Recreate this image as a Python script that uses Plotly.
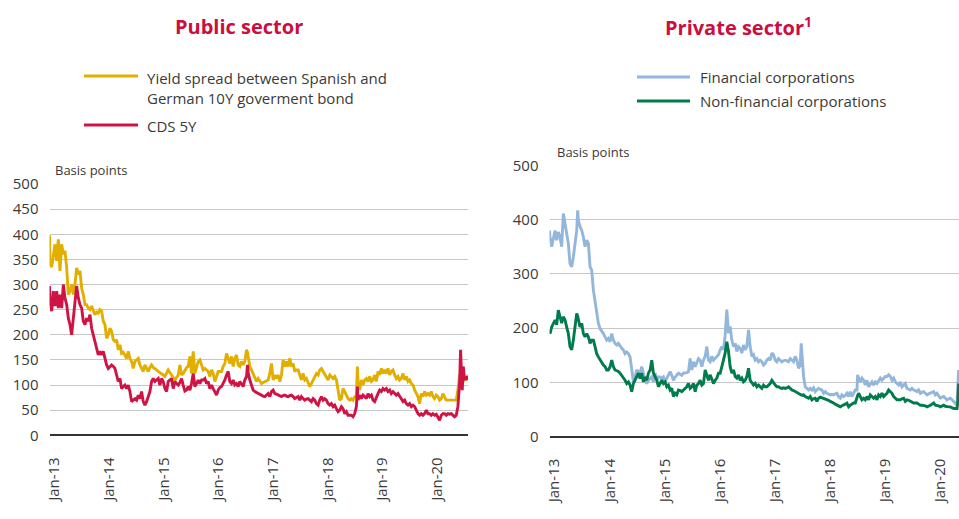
import plotly.graph_objects as go

W, H = 959, 519

# ---------------- data ----------------
# x values: months since January 2013
tick_vals = [0, 12, 24, 36, 48, 60, 72, 84]
tick_text = ["Jan-13", "Jan-14", "Jan-15", "Jan-16", "Jan-17", "Jan-18", "Jan-19", "Jan-20"]

left_names = ["Yield spread between Spanish and<br>German 10Y goverment bond", "CDS 5Y"]
right_names = ["Financial corporations", "Non-financial corporations"]

left_months = [
    0.00, 0.11, 0.48, 0.84, 1.21, 1.57, 1.94, 2.30, 2.67, 3.04,
    3.40, 3.77, 4.13, 4.50, 4.86, 5.23, 5.59, 5.96, 6.33, 6.69,
    7.06, 7.42, 7.79, 8.15, 8.52, 8.89, 9.25, 9.62, 9.98, 10.35,
    10.71, 11.08, 11.45, 11.81, 12.18, 12.54, 12.91, 13.27, 13.64, 14.01,
    14.37, 14.74, 15.10, 15.47, 15.83, 16.20, 16.56, 16.93, 17.30, 17.66,
    18.03, 18.39, 18.76, 19.12, 19.49, 19.85, 20.22, 20.59, 20.95, 21.32,
    21.68, 22.05, 22.42, 22.78, 23.15, 23.51, 23.88, 24.24, 24.61, 24.97,
    25.34, 25.71, 26.07, 26.44, 26.80, 27.17, 27.53, 27.90, 28.27, 28.63,
    29.00, 29.36, 29.73,
    30.10, 30.46, 30.83, 31.19, 31.56, 31.92, 32.29, 32.66, 33.02, 33.39,
    33.75, 34.12, 34.48, 34.85, 35.21, 35.58, 35.95, 36.31, 36.68, 37.04,
    37.41, 37.77, 38.14, 38.51, 38.87, 39.24, 39.60, 39.97, 40.33, 40.70,
    41.06, 41.43, 41.80, 42.16, 42.53, 42.89, 43.26, 43.48, 43.63, 43.99,
    44.36, 44.72, 45.09, 45.45, 45.82, 46.19, 46.55, 46.92, 47.28, 47.65,
    48.01, 48.38, 48.74, 49.11, 49.48, 49.84, 50.21, 50.57, 50.94, 51.30,
    51.67, 52.03, 52.40, 52.77, 53.13, 53.50, 53.86, 54.23, 54.59, 54.96,
    55.32, 55.69, 56.06, 56.42, 56.79, 57.15, 57.52, 57.88, 58.25, 58.61,
    58.98, 59.34, 59.71, 60.08,
    60.44, 60.81, 61.17, 61.54, 61.90, 62.27, 62.63, 63.00, 63.37, 63.73,
    64.10, 64.46, 64.83, 65.19, 65.56, 65.92, 66.29, 66.65, 67.02, 67.39,
    67.61, 67.75, 68.12, 68.48, 68.85, 69.21, 69.58, 69.94, 70.31, 70.68,
    71.04, 71.41, 71.77, 72.14, 72.50, 72.87, 73.23, 73.60, 73.96, 74.33,
    74.70, 75.06, 75.43, 75.79, 76.16, 76.52, 76.89, 77.25, 77.62, 77.99,
    78.35, 78.72, 79.08, 79.45, 79.81, 80.18, 80.54, 80.91, 81.27, 81.64,
    82.01, 82.37, 82.74, 83.10, 83.47, 83.83, 84.20, 84.56, 84.93, 85.30,
    85.66, 86.03, 86.39, 86.76, 87.12, 87.49, 87.85, 88.22, 88.58, 88.95,
    89.32, 89.68, 90.05, 90.27, 90.42, 90.64, 90.86, 91.15, 91.52, 91.88,
]

yield_spread = [
    398, 340, 335, 360, 380, 347, 390, 327, 380, 360,
    367, 333, 280, 287, 300, 280, 300, 333, 320, 327,
    293, 280, 260, 260, 253, 250, 257, 248, 240, 245,
    243, 250, 247, 227, 220, 193, 200, 213, 207, 190,
    187, 190, 170, 180, 163, 165, 160, 153, 167, 153,
    147, 133, 147, 150, 153, 140, 133, 127, 140, 133,
    127, 135, 140, 135, 133, 130, 127, 125, 123, 120,
    117, 125, 130, 125, 120, 115, 110, 115, 120, 140,
    120, 123, 128,
    135, 137, 157, 123, 167, 123, 135, 147, 150, 137,
    130, 133, 130, 127, 117, 130, 123, 107, 117, 127,
    127, 127, 137, 143, 163, 153, 143, 157, 137, 153,
    160, 140, 137, 147, 140, 147, 170, 165, 153, 137,
    130, 123, 117, 107, 113, 108, 103, 105, 107, 108,
    110, 123, 143, 110, 120, 113, 120, 107, 120, 150,
    137, 147, 137, 153, 137, 143, 127, 130, 130, 120,
    110, 123, 110, 113, 103, 97, 103, 110, 117, 123,
    120, 130, 133, 127,
    120, 113, 110, 120, 117, 113, 117, 110, 90, 70,
    73, 93, 87, 80, 73, 70, 73, 70, 77, 77,
    137, 107, 90, 110, 100, 110, 113, 107, 117, 107,
    110, 120, 107, 127, 120, 133, 123, 130, 123, 133,
    120, 127, 130, 120, 113, 117, 110, 113, 123, 110,
    117, 107, 110, 103, 100, 90, 83, 77, 63, 83,
    77, 87, 80, 83, 80, 87, 77, 73, 80, 77,
    70, 73, 83, 77, 70, 70, 70, 70, 70, 70,
    70, 90, 120, 115, 113, 105, 107, 117, 113, 120,
]

cds_5y = [
    297, 267, 247, 287, 257, 287, 253, 280, 253, 300,
    273, 260, 233, 220, 200, 233, 253, 297, 273, 260,
    253, 227, 220, 233, 227, 240, 213, 200, 187, 173,
    160, 167, 160, 167, 153, 140, 133, 137, 140, 137,
    133, 120, 107, 113, 93, 97, 100, 93, 100, 87,
    67, 70, 73, 70, 80, 73, 87, 67, 60, 67,
    77, 87, 107, 113, 107, 110, 113, 100, 113, 107,
    93, 87, 107, 110, 113, 93, 107, 103, 100, 105,
    113, 100, 88,
    90, 97, 90, 103, 123, 97, 103, 110, 103, 110,
    110, 113, 103, 107, 93, 100, 93, 87, 80, 90,
    95, 97, 103, 110, 120, 127, 107, 103, 110, 100,
    103, 97, 107, 103, 97, 110, 117, 140, 125, 110,
    97, 90, 87, 85, 83, 82, 80, 78, 77, 80,
    83, 77, 87, 90, 83, 82, 80, 78, 77, 79,
    80, 78, 77, 79, 80, 77, 73, 75, 77, 70,
    77, 73, 70, 72, 73, 70, 67, 73, 70, 63,
    60, 70, 77, 70,
    73, 70, 63, 60, 63, 57, 60, 53, 47, 50,
    57, 53, 43, 47, 40, 40, 40, 37, 43, 57,
    97, 70, 80, 73, 80, 77, 73, 83, 77, 80,
    70, 67, 77, 83, 90, 87, 93, 90, 93, 87,
    90, 83, 87, 83, 80, 83, 77, 70, 67, 70,
    63, 60, 63, 57, 60, 57, 50, 43, 40, 43,
    40, 43, 50, 43, 43, 40, 43, 40, 42, 37,
    30, 40, 43, 43, 40, 43, 42, 43, 40, 37,
    40, 57, 103, 170, 137, 90, 137, 110, 117, 110,
]

right_months = [
    0.00, 0.11, 0.47, 0.84, 1.20, 1.56, 1.92, 2.29, 2.65, 3.01,
    3.38, 3.74, 4.10, 4.46, 4.83, 5.19, 5.55, 5.92, 6.13, 6.28,
    6.64, 7.01, 7.37, 7.73, 8.09, 8.46, 8.82, 9.18, 9.55, 9.91,
    10.27, 10.63, 11.00, 11.36, 11.72, 12.09, 12.45, 12.81, 13.18, 13.54,
    13.90, 14.26, 14.63, 14.99, 15.35, 15.72, 16.08, 16.44, 16.81, 17.17,
    17.53, 17.89, 18.26, 18.62, 18.98, 19.35, 19.71, 20.07, 20.43, 20.80,
    21.16, 21.52, 21.89, 22.25, 22.61, 22.97, 23.34, 23.70, 24.06, 24.43,
    24.79, 25.15, 25.52, 25.88, 26.24, 26.60, 26.97, 27.33, 27.69, 28.06,
    28.42, 28.78, 29.15,
    29.51, 29.87, 30.24, 30.60, 30.96, 31.33, 31.69, 32.05, 32.41, 32.78,
    33.14, 33.50, 33.87, 34.23, 34.59, 34.95, 35.32, 35.68, 36.04, 36.41,
    36.77, 37.13, 37.50, 37.86, 38.22, 38.58, 38.80, 38.95, 39.31, 39.67,
    40.04, 40.40, 40.76, 41.12, 41.49, 41.85, 42.21, 42.58, 42.94, 43.30,
    43.66, 44.03, 44.39, 44.75, 45.12, 45.48, 45.84, 46.21, 46.57, 46.93,
    47.29, 47.66, 48.02, 48.38, 48.75, 49.11, 49.47, 49.84, 50.20, 50.56,
    50.92, 51.29, 51.65, 52.01, 52.38, 52.74, 53.10, 53.46, 53.83, 54.19,
    54.55, 54.77, 55.06, 55.28, 55.64, 56.01, 56.37, 56.73, 57.09, 57.46,
    57.82, 58.18, 58.55,
    58.91, 59.27, 59.64, 60.00, 60.36, 60.72, 61.09, 61.45, 61.81, 62.18,
    62.54, 62.90, 63.27, 63.63, 63.99, 64.35, 64.72, 65.08, 65.44, 65.81,
    66.17, 66.53, 66.90, 67.04, 67.26, 67.62, 67.98, 68.35, 68.71, 69.07,
    69.44, 69.80, 70.16, 70.52, 70.89, 71.25, 71.61, 71.98, 72.34, 72.70,
    73.06, 73.43, 73.79, 74.15, 74.52, 74.88, 75.24, 75.61, 75.97, 76.33,
    76.69, 77.06, 77.42, 77.78, 78.15, 78.51, 78.87, 79.24, 79.60, 79.96,
    80.32, 80.69, 81.05, 81.41, 81.78, 82.14, 82.50, 82.87, 83.23, 83.59,
    83.95, 84.32, 84.68, 85.04, 85.41, 85.77, 86.13, 86.49, 86.86, 87.22,
    87.58, 87.95, 88.31, 88.67, 88.82, 89.03,
]

financial = [
    380, 368, 350, 368, 380, 362, 377, 368, 350, 411,
    393, 380, 356, 319, 313, 331, 362, 380, 417, 399,
    387, 380, 368, 350, 362, 356, 313, 307, 270, 252,
    227, 209, 199, 193, 190, 184, 178, 181, 175, 190,
    178, 172, 169, 172, 167, 163, 160, 153, 156, 153,
    147, 123, 101, 110, 123, 120, 117, 129, 117, 104,
    98, 104, 107, 110, 101, 117, 104, 110, 110, 107,
    110, 101, 108, 113, 120, 113, 104, 110, 113, 117,
    115, 113, 117,
    117, 118, 120, 144, 123, 138, 129, 135, 144, 141,
    129, 141, 148, 166, 141, 138, 148, 141, 144, 148,
    151, 160, 166, 160, 187, 234, 209, 191, 203, 178,
    166, 172, 157, 166, 163, 154, 169, 160, 166, 197,
    166, 148, 151, 141, 144, 138, 141, 138, 132, 135,
    141, 144, 141, 154, 151, 141, 138, 144, 141, 138,
    140, 141, 140, 138, 144, 141, 138, 148, 141, 126,
    132, 172, 129, 111, 92, 89, 86, 89, 86, 90,
    83, 86, 89,
    87, 86, 80, 83, 80, 79, 77, 78, 77, 79,
    80, 74, 71, 77, 74, 76, 80, 74, 83, 74,
    80, 86, 86, 114, 108, 101, 108, 104, 95, 104,
    92, 98, 101, 95, 101, 98, 104, 108, 104, 108,
    111, 111, 114, 111, 104, 108, 101, 98, 95, 101,
    92, 95, 98, 89, 88, 86, 89, 86, 85, 83,
    86, 80, 82, 83, 80, 77, 79, 80, 82, 83,
    77, 80, 75, 71, 73, 74, 71, 68, 70, 71,
    68, 65, 62, 58, 92, 123,
]

non_financial = [
    196, 190, 202, 209, 215, 206, 233, 221, 209, 221,
    215, 202, 190, 166, 160, 178, 202, 227, 222, 215,
    202, 209, 190, 184, 190, 184, 172, 178, 178, 166,
    153, 147, 141, 135, 132, 129, 123, 123, 129, 141,
    129, 123, 122, 120, 117, 113, 107, 104, 98, 101,
    95, 83, 98, 104, 110, 117, 107, 117, 101, 110,
    104, 117, 123, 141, 117, 110, 104, 92, 98, 104,
    98, 101, 92, 95, 86, 89, 74, 80, 77, 86,
    85, 83, 86,
    89, 92, 98, 89, 92, 98, 83, 95, 98, 104,
    95, 98, 123, 111, 104, 114, 104, 98, 104, 108,
    117, 117, 129, 141, 154, 175, 165, 157, 129, 117,
    123, 111, 108, 114, 104, 108, 101, 104, 111, 126,
    104, 98, 95, 98, 92, 95, 92, 89, 95, 92,
    92, 95, 98, 104, 98, 95, 92, 92, 90, 89,
    90, 89, 90, 92, 89, 86, 85, 83, 82, 80,
    78, 77, 76, 77, 74, 72, 71, 74, 68, 70,
    71, 65, 71,
    73, 72, 71, 70, 68, 67, 65, 64, 62, 60,
    58, 57, 55, 57, 58, 60, 62, 55, 58, 60,
    62, 62, 74, 76, 80, 74, 68, 71, 68, 74,
    68, 77, 74, 71, 74, 68, 77, 74, 80, 74,
    77, 80, 86, 83, 80, 74, 71, 68, 68, 68,
    70, 71, 65, 68, 67, 65, 64, 62, 62, 62,
    60, 58, 58, 58, 57, 55, 56, 58, 60, 62,
    58, 58, 57, 55, 56, 58, 56, 55, 55, 55,
    53, 52, 52, 52, 62, 98,
]

assert len(left_months) == len(yield_spread) == len(cds_5y)
assert len(right_months) == len(financial) == len(non_financial)

# ---------------- style ----------------
FONT = "Open Sans"
TXT = "#3a3a3a"
TITLE_RED = "#CC0D3F"
C_YIELD = "#E2AF00"
C_CDS = "#CF1445"
C_FIN = "#93B6DB"
C_NONFIN = "#007B4C"
LW = 2.9


def px(x):
    return x / W


def py(y):
    return 1 - y / H


fig = go.Figure()
fig.add_trace(go.Scatter(x=left_months, y=yield_spread, mode="lines", name=left_names[0],
                         line=dict(color=C_YIELD, width=LW), xaxis="x", yaxis="y", showlegend=False))
fig.add_trace(go.Scatter(x=left_months, y=cds_5y, mode="lines", name=left_names[1],
                         line=dict(color=C_CDS, width=LW), xaxis="x", yaxis="y", showlegend=False))
fig.add_trace(go.Scatter(x=right_months, y=financial, mode="lines", name=right_names[0],
                         line=dict(color=C_FIN, width=LW), xaxis="x2", yaxis="y2", showlegend=False))
fig.add_trace(go.Scatter(x=right_months, y=non_financial, mode="lines", name=right_names[1],
                         line=dict(color=C_NONFIN, width=LW), xaxis="x2", yaxis="y2", showlegend=False))

xcommon = dict(tickvals=tick_vals, ticktext=tick_text, tickangle=-90, showgrid=False,
               zeroline=False, showline=False, ticks="", ticklabelshift=5, ticklabelstandoff=18,
               automargin=False,
               tickfont=dict(family=FONT, size=15, color=TXT), fixedrange=True)
ycommon = dict(range=[0, 500], showgrid=True, gridcolor="#C6C6C6", gridwidth=1,
               zeroline=True, zerolinecolor="#333333", zerolinewidth=1.6, showline=False,
               ticks="", ticklabelstandoff=10, automargin=False,
               tickfont=dict(family=FONT, size=15, color=TXT), fixedrange=True)

fig.update_layout(
    template="none",
    width=W, height=H,
    margin=dict(l=0, r=0, t=0, b=0, pad=0, autoexpand=False),
    paper_bgcolor="white", plot_bgcolor="white",
    font=dict(family=FONT, color=TXT),
    showlegend=False,
    xaxis=dict(domain=[px(49.5), px(468)], range=[0, 91.9], anchor="y", **xcommon),
    yaxis=dict(domain=[py(435.3), py(184)], dtick=50, anchor="x", **ycommon),
    xaxis2=dict(domain=[px(549.5), 1.0], range=[0, 89.1], anchor="y2", **xcommon),
    yaxis2=dict(domain=[py(436.7), py(165.3)], dtick=100, anchor="x2", **ycommon),
)

annotations = [
    dict(text="<b>Public sector</b>", x=px(239), y=py(26), font=dict(size=20, color=TITLE_RED, family=FONT)),
    dict(text="<b>Private sector<sup>1</sup></b>", x=px(738), y=py(26), font=dict(size=20, color=TITLE_RED, family=FONT)),
    dict(text="Basis points", x=px(53), y=py(170), xanchor="left", font=dict(size=13, color=TXT, family=FONT)),
    dict(text="Basis points", x=px(555), y=py(152), xanchor="left", font=dict(size=13, color=TXT, family=FONT)),
    dict(text=left_names[0], x=px(145), y=py(88), xanchor="left", align="left",
         font=dict(size=15, color=TXT, family=FONT)),
    dict(text=left_names[1], x=px(145), y=py(126), xanchor="left", font=dict(size=15, color=TXT, family=FONT)),
    dict(text=right_names[0], x=px(698), y=py(77), xanchor="left", font=dict(size=15, color=TXT, family=FONT)),
    dict(text=right_names[1], x=px(698), y=py(101), xanchor="left", font=dict(size=15, color=TXT, family=FONT)),
]
for a in annotations:
    a.setdefault("xanchor", "center")
    a.update(xref="paper", yref="paper", yanchor="middle", showarrow=False)
fig.update_layout(annotations=annotations)

legend_keys = [
    (84, 138, 76, C_YIELD),
    (84, 138, 125, C_CDS),
    (637, 690, 77, C_FIN),
    (637, 690, 101, C_NONFIN),
]
for x0, x1, yy, col in legend_keys:
    fig.add_shape(type="line", xref="paper", yref="paper", x0=px(x0), x1=px(x1), y0=py(yy), y1=py(yy),
                  line=dict(color=col, width=3))

fig.write_html(
    "out.html",
    config={"displayModeBar": False},
    post_script="document.body.style.margin='0';document.body.style.overflow='hidden';",
)
